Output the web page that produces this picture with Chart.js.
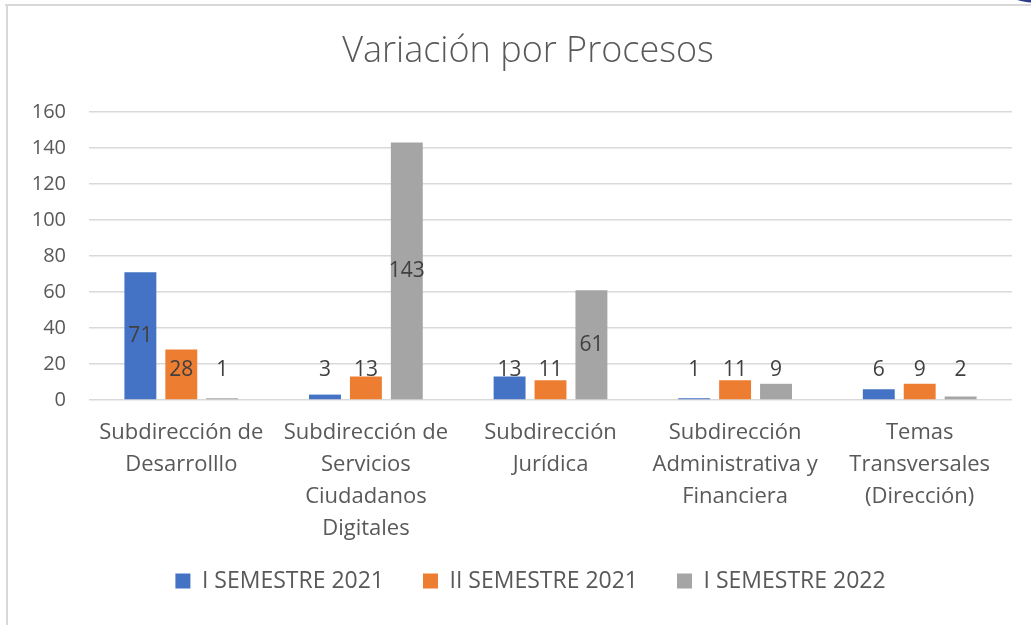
<!DOCTYPE html>
<html lang="es">
<head>
    <meta charset="UTF-8">
    <title>Variación por Procesos</title>
    <script src="https://cdn.jsdelivr.net/npm/chart.js@4.4.1/dist/chart.umd.min.js"></script>
    <style>
        html, body { margin: 0; padding: 0; background: #fff; }
        #wrap { position: relative; width: 1031px; height: 625px; }
    </style>
</head>
<body>
    <div id="wrap"><canvas id="chart" width="1031" height="625"></canvas></div>
    <script>
        // datos
        const categories = [
            ['Subdirección de', 'Desarrolllo'],
            ['Subdirección de', 'Servicios', 'Ciudadanos', 'Digitales'],
            ['Subdirección', 'Jurídica'],
            ['Subdirección', 'Administrativa y', 'Financiera'],
            ['Temas', 'Transversales', '(Dirección)']
        ];
        const seriesNames = ['I SEMESTRE 2021', 'II SEMESTRE 2021', 'I SEMESTRE 2022'];
        const sem1_2021 = [71, 3, 13, 1, 6];
        const sem2_2021 = [28, 13, 11, 11, 9];
        const sem1_2022 = [1, 143, 61, 9, 2];
        const yTicks = [0, 20, 40, 60, 80, 100, 120, 140, 160];

        const colors = ['#4472C4', '#ED7D31', '#A5A5A5'];
        const textColor = '#595959';
        const FONT = "'Open Sans', sans-serif";

        // marco del gráfico
        const framePlugin = {
            id: 'frame',
            beforeDraw(chart) {
                const ctx = chart.ctx;
                ctx.save();
                ctx.fillStyle = '#fff';
                ctx.fillRect(0, 0, chart.width, chart.height);
                ctx.strokeStyle = '#D9D9D9';
                ctx.lineWidth = 2;
                ctx.beginPath();
                ctx.moveTo(5, 5);
                ctx.lineTo(1031, 5);
                ctx.moveTo(7, 5);
                ctx.lineTo(7, 625);
                ctx.stroke();
                ctx.fillStyle = '#2E3A8C';
                ctx.beginPath();
                ctx.ellipse(1040, -14, 40, 17, 0, 0, Math.PI * 2);
                ctx.fill();
                ctx.restore();
            }
        };

        // ajustes de posición: título y leyenda centrados en el marco
        const placePlugin = {
            id: 'place',
            afterLayout(chart) {
                const t = chart.titleBlock;
                if (t) { t.left = 44; t.right = 1012; t.width = 968; }
                const lg = chart.legend;
                if (lg) {
                    const h = lg.height;
                    lg.top = 530.5;
                    lg.bottom = lg.top + h;
                    lg.left += 24.5;
                    lg.right += 24.5;
                }
            }
        };

        // etiquetas de valores sobre las barras
        const labelPlugin = {
            id: 'barLabels',
            afterDatasetsDraw(chart) {
                const ctx = chart.ctx;
                ctx.save();
                ctx.font = "21px " + FONT;
                ctx.fillStyle = '#404040';
                ctx.textAlign = 'center';
                ctx.textBaseline = 'middle';
                chart.data.datasets.forEach((ds, i) => {
                    chart.getDatasetMeta(i).data.forEach((bar, j) => {
                        const mid = (bar.y + bar.base) / 2;
                        const y = Math.min(mid, bar.base - 29);
                        ctx.fillText(String(ds.data[j]), bar.x, y);
                    });
                });
                ctx.restore();
            }
        };

        const valueSets = [sem1_2021, sem2_2021, sem1_2022];

        new Chart(document.getElementById('chart'), {
            type: 'bar',
            data: {
                labels: categories,
                datasets: seriesNames.map((name, i) => ({
                    label: name,
                    data: valueSets[i],
                    backgroundColor: colors[i],
                    categoryPercentage: 0.665,
                    barPercentage: 0.78
                }))
            },
            options: {
                responsive: false,
                animation: false,
                layout: { padding: { top: 8, right: 19, bottom: 3, left: 0 } },
                plugins: {
                    title: {
                        display: true,
                        text: 'Variación por Procesos',
                        color: textColor,
                        font: { family: FONT, size: 36, weight: '300', lineHeight: 1.2 },
                        padding: { top: 22.4, bottom: 38.4 }
                    },
                    legend: {
                        position: 'bottom',
                        labels: {
                            color: textColor,
                            font: { family: FONT, size: 23 },
                            boxWidth: 15,
                            boxHeight: 15,
                            padding: 39
                        }
                    },
                    tooltip: { enabled: false }
                },
                scales: {
                    x: {
                        grid: { display: false, drawTicks: false },
                        border: { display: false },
                        ticks: {
                            color: textColor,
                            font: { family: FONT, size: 22, lineHeight: 1.45 },
                            padding: 17,
                            maxRotation: 0,
                            autoSkip: false
                        },
                        afterFit(scale) { scale.height = 150; }
                    },
                    y: {
                        min: 0,
                        max: 160,
                        afterBuildTicks(scale) { scale.ticks = yTicks.map(v => ({ value: v })); },
                        grid: { color: '#D9D9D9', lineWidth: 1.5, drawTicks: false },
                        border: { display: false },
                        ticks: {
                            color: textColor,
                            font: { family: FONT, size: 20 },
                            padding: 23
                        },
                        afterFit(scale) { scale.width = 89; }
                    }
                }
            },
            plugins: [framePlugin, placePlugin, labelPlugin]
        });
    </script>
</body>
</html>
